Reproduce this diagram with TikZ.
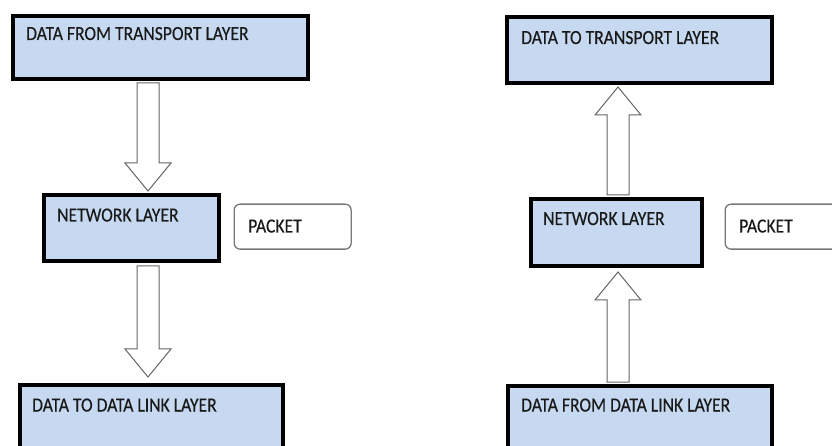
\documentclass[tikz,border=0pt]{standalone}
\usepackage{fontspec}
\setmainfont{Carlito}[FakeStretch=0.88,FakeBold=0.3]
\usetikzlibrary{calc}
\definecolor{boxblue}{RGB}{198,217,241}
\definecolor{arrowgray}{RGB}{100,100,100}
\definecolor{packgray}{RGB}{120,120,120}
\tikzset{
  layerbox/.style={draw=black, line width=4bp, fill=boxblue, rectangle, anchor=north west, inner sep=0pt},
  packbox/.style={draw=packgray, line width=1.3bp, fill=white, rectangle, rounded corners=6bp, anchor=north west, inner sep=0pt},
  lbl/.style={anchor=base west, inner sep=0pt, font=\fontsize{20bp}{24bp}\selectfont, text=black!90},
  blockarrow/.style={draw=arrowgray, line width=1bp, fill=white, line join=miter}
}
\newcommand{\dnarrow}[2]{%
  \draw[blockarrow] ($(#1)+(-11,0)$) -- ($(#2)+(-11,-28)$) -- ($(#2)+(-23,-28)$) -- (#2)
    -- ($(#2)+(23,-28)$) -- ($(#2)+(11,-28)$) -- ($(#1)+(11,0)$) -- cycle;}
\newcommand{\uparrowblk}[2]{%
  \draw[blockarrow] ($(#1)+(-11,0)$) -- ($(#2)+(-11,28)$) -- ($(#2)+(-23,28)$) -- (#2)
    -- ($(#2)+(23,28)$) -- ($(#2)+(11,28)$) -- ($(#1)+(11,0)$) -- cycle;}
\begin{document}
\begin{tikzpicture}[x=1bp,y=-1bp]
\useasboundingbox (0,0) rectangle (832,446);
\clip (0,0) rectangle (832,446);
% left column
\node[layerbox, minimum width=295bp, minimum height=63bp] (lt) at (11,14) {};
\node[lbl] (ltt) at (26,40) {DATA FROM TRANSPORT LAYER};
\node[layerbox, minimum width=175bp, minimum height=66bp] (ln) at (42,193) {};
\node[lbl] (lnt) at (57,221.5) {NETWORK LAYER};
\node[packbox, minimum width=117bp, minimum height=45bp] (lp) at (233.5,203.5) {};
\node[lbl] (lpt) at (248,232.5) {PACKET};
\node[layerbox, minimum width=263bp, minimum height=80bp] (lb) at (18,383) {};
\node[lbl] (lbt) at (32,411.5) {DATA TO DATA LINK LAYER};
% right column
\node[layerbox, minimum width=265bp, minimum height=66bp] (rt) at (505,15) {};
\node[lbl] (rtt) at (521,44) {DATA TO TRANSPORT LAYER};
\node[layerbox, minimum width=171bp, minimum height=67bp] (rn) at (529,197) {};
\node[lbl] (rnt) at (543,225) {NETWORK LAYER};
\node[packbox, minimum width=117bp, minimum height=45bp] (rp) at (724.5,203.5) {};
\node[lbl] (rpt) at (739,232.5) {PACKET};
\node[layerbox, minimum width=264bp, minimum height=80bp] (rb) at (506,384) {};
\node[lbl] (rbt) at (521,411.5) {DATA FROM DATA LINK LAYER};
% arrow end points
\coordinate (a1s) at ($(lt.south -| 148,0)+(0,2)$);
\coordinate (a1e) at ($(ln.north -| 148,0)+(0,-2)$);
\coordinate (a2s) at ($(ln.south -| 148,0)+(0,3)$);
\coordinate (a2e) at ($(lb.north -| 148,0)+(0,-6)$);
\coordinate (a3s) at ($(rn.north -| 618,0)+(0,-2)$);
\coordinate (a3e) at ($(rt.south -| 618,0)+(0,2)$);
\coordinate (a4s) at ($(rb.north -| 618,0)+(0,-2)$);
\coordinate (a4e) at ($(rn.south -| 618,0)+(0,4)$);
\dnarrow{a1s}{a1e}
\dnarrow{a2s}{a2e}
\uparrowblk{a3s}{a3e}
\uparrowblk{a4s}{a4e}
\end{tikzpicture}
\end{document}
